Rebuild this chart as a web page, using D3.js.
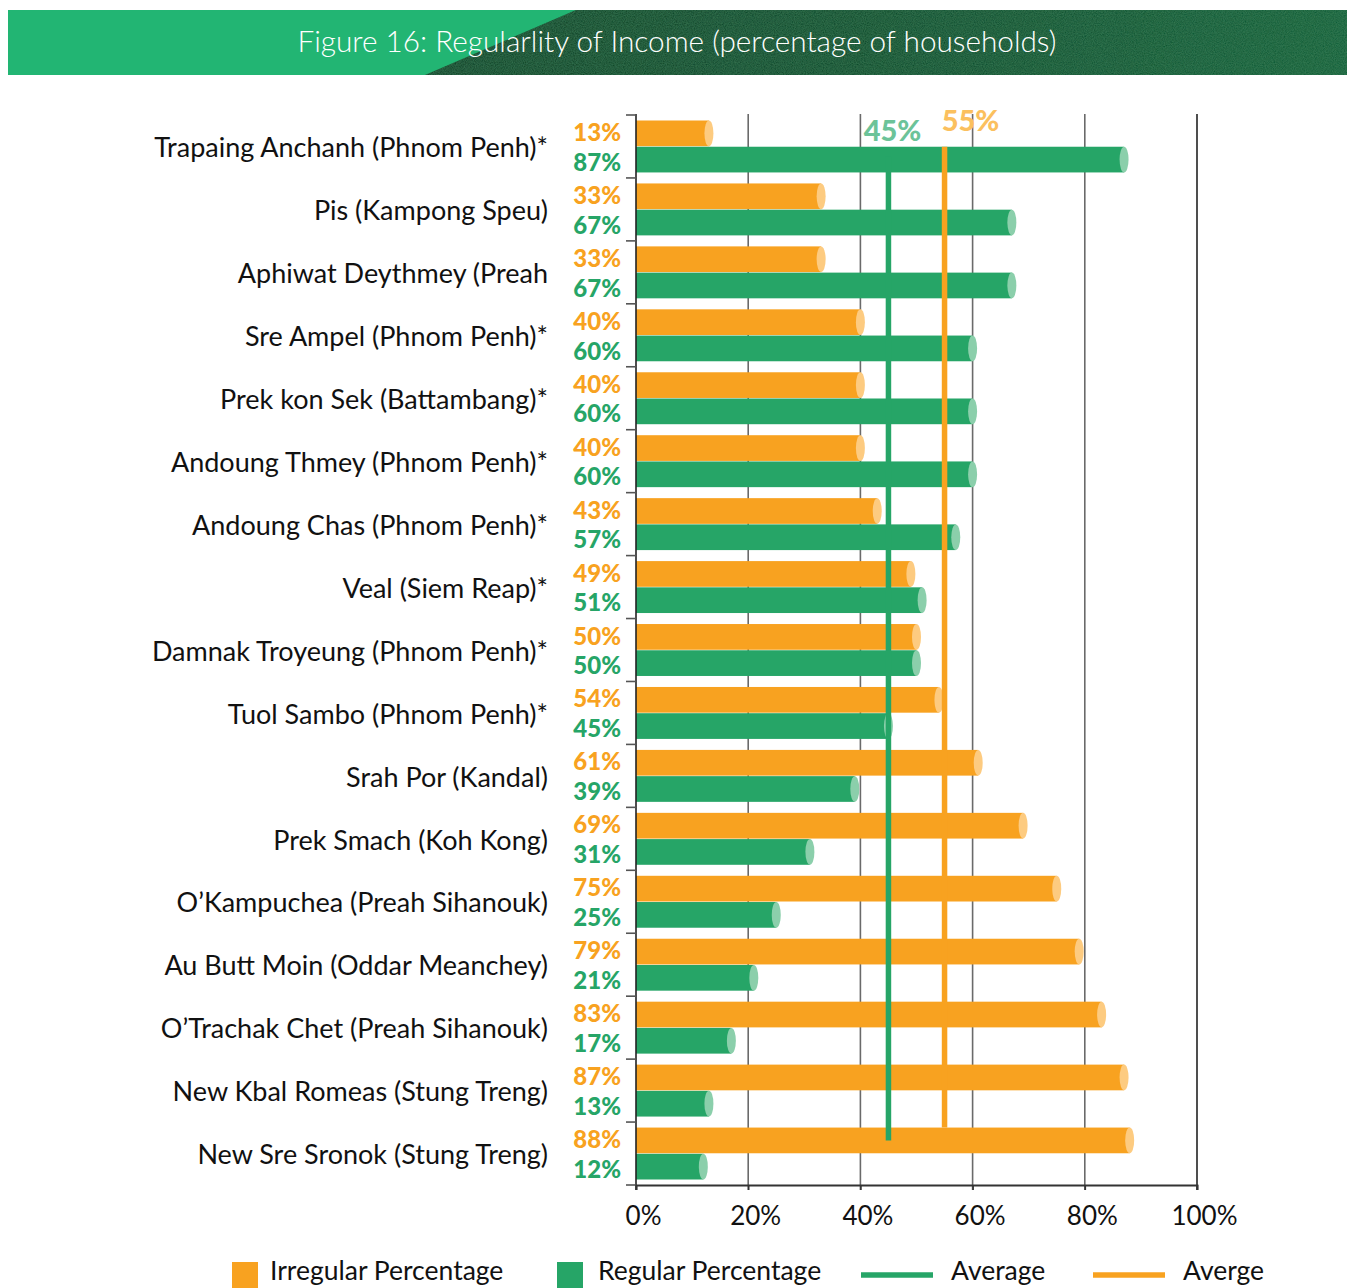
<!DOCTYPE html>
<html>
<head>
<meta charset="utf-8">
<script src="https://cdn.jsdelivr.net/npm/d3@7"></script>
<style>
  html, body { margin: 0; padding: 0; background: #ffffff; }
  svg { display: block; }
  text { font-family: Lato, "Open Sans", sans-serif; }
</style>
</head>
<body>
<svg id="chart" width="1352" height="1288"></svg>
<script>
// Villages surveyed (top to bottom)
const categories = [
  "Trapaing Anchanh (Phnom Penh)*",
  "Pis (Kampong Speu)",
  "Aphiwat Deythmey (Preah",
  "Sre Ampel (Phnom Penh)*",
  "Prek kon Sek (Battambang)*",
  "Andoung Thmey (Phnom Penh)*",
  "Andoung Chas (Phnom Penh)*",
  "Veal (Siem Reap)*",
  "Damnak Troyeung (Phnom Penh)*",
  "Tuol Sambo (Phnom Penh)*",
  "Srah Por (Kandal)",
  "Prek Smach (Koh Kong)",
  "O\u2019Kampuchea (Preah Sihanouk)",
  "Au Butt Moin (Oddar Meanchey)",
  "O\u2019Trachak Chet (Preah Sihanouk)",
  "New Kbal Romeas (Stung Treng)",
  "New Sre Sronok (Stung Treng)"
];

// Share of households with irregular / regular income (%)
const irregular = [13, 33, 33, 40, 40, 40, 43, 49, 50, 54, 61, 69, 75, 79, 83, 87, 88];
const regular   = [87, 67, 67, 60, 60, 60, 57, 51, 50, 45, 39, 31, 25, 21, 17, 13, 12];

// Averages across all villages (%)
const avgRegular = 45;
const avgIrregular = 55;

const xTicks = [0, 20, 40, 60, 80, 100];
const xTickLabels = ["0%", "20%", "40%", "60%", "80%", "100%"];

const seriesNames = ["Irregular Percentage", "Regular Percentage"];
const legendLineNames = ["Average", "Averge"];

const ORANGE = "#F8A220", ORANGE_CAP = "#FDCB80", ORANGE_TXT = "#FBC05E";
const GREEN = "#26A567", GREEN_CAP = "#8BCFAB", GREEN_TXT = "#6CC399";

const svg = d3.select("#chart");

// ---- Title banner ----
const defs = svg.append("defs");
const dark = defs.append("linearGradient").attr("id", "darkGreen")
  .attr("x1", "0").attr("x2", "1").attr("y1", "0").attr("y2", "0");
dark.append("stop").attr("offset", "0").attr("stop-color", "#0A3A20");
dark.append("stop").attr("offset", "0.5").attr("stop-color", "#0C4628");
dark.append("stop").attr("offset", "1").attr("stop-color", "#105A34");

const filt = defs.append("filter").attr("id", "grain").attr("x", 0).attr("y", 0).attr("width", 1).attr("height", 1);
filt.append("feTurbulence").attr("type", "fractalNoise").attr("baseFrequency", "0.9").attr("numOctaves", 2).attr("seed", 3).attr("result", "n");
filt.append("feColorMatrix").attr("in", "n").attr("type", "matrix")
  .attr("values", "0 0 0 0 0.1  0 0 0 0 0.4  0 0 0 0 0.2  0 0 0 0.35 0").attr("result", "c");
filt.append("feComposite").attr("in", "c").attr("in2", "SourceGraphic").attr("operator", "in").attr("result", "t");
filt.append("feMerge").call(m => { m.append("feMergeNode").attr("in", "SourceGraphic"); m.append("feMergeNode").attr("in", "t"); });

svg.append("rect").attr("x", 8).attr("y", 10).attr("width", 1339).attr("height", 65).attr("fill", "#22B573");
svg.append("path")
  .attr("d", "M576,10 L1347,10 L1347,75 L425,75 Z")
  .attr("fill", "url(#darkGreen)")
  .attr("filter", "url(#grain)");
svg.append("text")
  .attr("x", 677).attr("y", 52)
  .attr("text-anchor", "middle")
  .attr("fill", "#ffffff")
  .attr("font-size", 30)
  .attr("font-weight", 300)
  .attr("textLength", 759).attr("lengthAdjust", "spacingAndGlyphs")
  .text("Figure 16: Regularlity of Income (percentage of households)");

// ---- Scales ----
const x = d3.scaleLinear().domain([0, 100]).range([636, 1197]);
const y = d3.scaleBand().domain(categories).range([115, 1185]).paddingInner(0).paddingOuter(0);
const inner = d3.scaleBand().domain(["irr", "reg"]).range([5.5, y.bandwidth() - 5.5]).paddingInner(0.02);

const plotTop = 114, plotBottom = 1185;

// ---- Gridlines ----
svg.append("g").selectAll("line").data(xTicks.filter(t => t > 0)).join("line")
  .attr("x1", d => x(d)).attr("x2", d => x(d))
  .attr("y1", plotTop).attr("y2", plotBottom + 5)
  .attr("stroke", d => d === 100 ? "#222" : "#6a6a6a")
  .attr("stroke-width", 1.6);

// ---- Bars ----
const rows = categories.map((c, i) => ({ c, irr: irregular[i], reg: regular[i] }));
const bars = svg.append("g");
function drawSeries(key, fill, cap) {
  const g = bars.append("g");
  g.selectAll("rect").data(rows).join("rect")
    .attr("x", x(0))
    .attr("y", d => y(d.c) + inner(key))
    .attr("width", d => x(d[key]) - x(0))
    .attr("height", inner.bandwidth())
    .attr("fill", fill);
  g.selectAll("ellipse").data(rows).join("ellipse")
    .attr("cx", d => x(d[key]))
    .attr("cy", d => y(d.c) + inner(key) + inner.bandwidth() / 2)
    .attr("rx", 4.5)
    .attr("ry", inner.bandwidth() / 2)
    .attr("fill", cap);
}
drawSeries("irr", ORANGE, ORANGE_CAP);
drawSeries("reg", GREEN, GREEN_CAP);

// ---- Average lines ----
const firstRow = y(categories[0]);
const lastRow = y(categories[categories.length - 1]);
svg.append("line")
  .attr("x1", x(avgIrregular)).attr("x2", x(avgIrregular))
  .attr("y1", firstRow + inner("reg")).attr("y2", lastRow + inner("irr"))
  .attr("stroke", ORANGE).attr("stroke-width", 5.5);
svg.append("line")
  .attr("x1", x(avgRegular)).attr("x2", x(avgRegular))
  .attr("y1", firstRow + inner("reg") + 10).attr("y2", lastRow + inner("irr") + 13)
  .attr("stroke", GREEN).attr("stroke-width", 5.5);

svg.append("text")
  .attr("x", x(avgRegular) + 4).attr("y", 141)
  .attr("text-anchor", "middle").attr("font-weight", 900).attr("font-size", 29)
  .attr("fill", GREEN_TXT).text(avgRegular + "%");
svg.append("text")
  .attr("x", x(avgIrregular) + 26).attr("y", 131)
  .attr("text-anchor", "middle").attr("font-weight", 900).attr("font-size", 29)
  .attr("fill", ORANGE_TXT).text(avgIrregular + "%");

// ---- Axes ----
// vertical axis line + category boundary ticks
svg.append("line").attr("x1", x(0)).attr("x2", x(0)).attr("y1", plotTop).attr("y2", plotBottom + 5)
  .attr("stroke", "#222").attr("stroke-width", 1.6);
const bounds = categories.map(c => y(c)).concat([y.range()[1]]);
svg.append("g").selectAll("line").data(bounds).join("line")
  .attr("x1", x(0) - 10).attr("x2", x(0))
  .attr("y1", d => d).attr("y2", d => d)
  .attr("stroke", "#555").attr("stroke-width", 1.6);

// horizontal axis
const xAxis = d3.axisBottom(x).tickValues(xTicks).tickSize(5)
  .tickFormat((d, i) => xTickLabels[i]);
const gx = svg.append("g").attr("transform", `translate(0,${plotBottom})`).call(xAxis);
gx.select(".domain").attr("stroke", "#333").attr("stroke-width", 1.8);
gx.selectAll(".tick line").attr("stroke", "#333").attr("stroke-width", 1.6);
gx.selectAll(".tick text")
  .attr("font-family", "Lato, sans-serif")
  .attr("font-size", 26).attr("fill", "#111")
  .attr("dx", 7).attr("y", 22).attr("dy", "0.71em");

// ---- Labels ----
svg.append("g").selectAll("text").data(rows).join("text")
  .attr("x", 548)
  .attr("y", d => y(d.c) + y.bandwidth() / 2 + 1)
  .attr("dy", "0.36em")
  .attr("text-anchor", "end")
  .attr("font-size", 27)
  .attr("fill", "#111")
  .text(d => d.c);

// value labels sit slightly apart from their bar centres
function valueLabels(key, color, shift) {
  svg.append("g").selectAll("text").data(rows).join("text")
    .attr("x", 621)
    .attr("y", d => y(d.c) + inner(key) + inner.bandwidth() / 2 + shift)
    .attr("dy", "0.36em")
    .attr("text-anchor", "end")
    .attr("font-size", 24)
    .attr("font-weight", 900)
    .attr("fill", color)
    .text(d => d[key] + "%");
}
valueLabels("irr", ORANGE, -1);
valueLabels("reg", GREEN, 2.5);

// ---- Legend ----
const lg = svg.append("g");
const legendBoxes = [
  { x: 232, fill: ORANGE, label: seriesNames[0] },
  { x: 557, fill: GREEN, label: seriesNames[1] }
];
lg.selectAll("rect").data(legendBoxes).join("rect")
  .attr("x", d => d.x).attr("y", 1262).attr("width", 26).attr("height", 26)
  .attr("fill", d => d.fill);
const legendLines = [
  { x: 861, stroke: GREEN, label: legendLineNames[0] },
  { x: 1093, stroke: ORANGE, label: legendLineNames[1] }
];
lg.selectAll("line").data(legendLines).join("line")
  .attr("x1", d => d.x).attr("x2", d => d.x + 72)
  .attr("y1", 1275).attr("y2", 1275)
  .attr("stroke", d => d.stroke).attr("stroke-width", 5.5);
const legendTexts = [
  { x: 270, label: seriesNames[0] },
  { x: 598, label: seriesNames[1] },
  { x: 951, label: legendLineNames[0] },
  { x: 1183, label: legendLineNames[1] }
];
lg.selectAll("text").data(legendTexts).join("text")
  .attr("x", d => d.x).attr("y", 1280)
  .attr("font-size", 26.5).attr("fill", "#111")
  .text(d => d.label);
</script>
</body>
</html>
